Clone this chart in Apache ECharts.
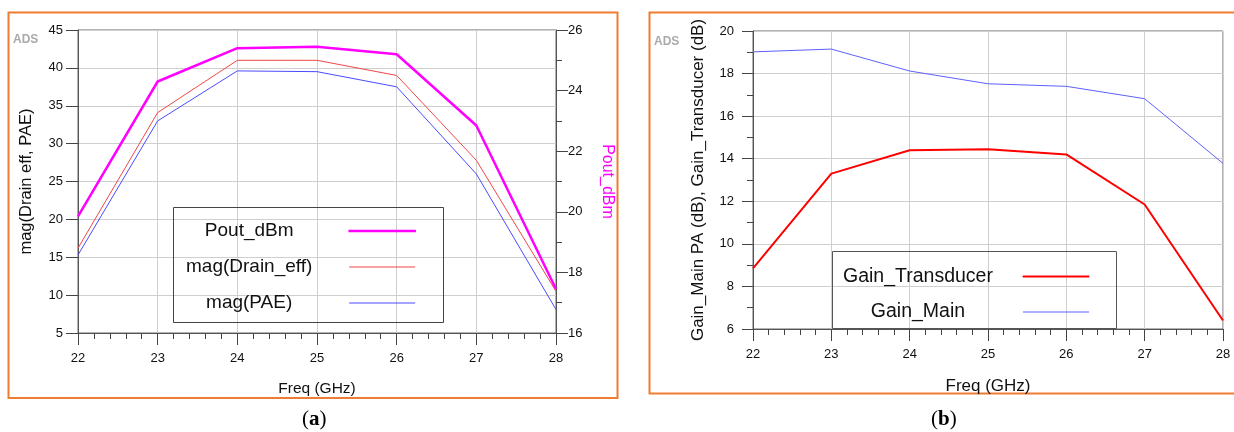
<!DOCTYPE html>
<html><head><meta charset="utf-8">
<script src="https://cdn.jsdelivr.net/npm/echarts@6/dist/echarts.min.js"></script>
<style>html,body{margin:0;padding:0;background:#fff}#c{width:1234px;height:432px}</style>
</head><body><div id="c"></div>
<script>
const freq = [22, 23, 24, 25, 26, 27, 28];
const drainEff = [16.2, 34.1, 41.0, 41.0, 39.0, 27.8, 10.5];
const pae = [15.3, 33.0, 39.6, 39.5, 37.5, 26.0, 8.1];
const poutDbm = [19.85, 24.3, 25.4, 25.45, 25.2, 22.85, 17.45];
const gainMain = [19.02, 19.15, 18.12, 17.52, 17.4, 16.82, 13.78];
const gainTransducer = [8.85, 13.3, 14.4, 14.45, 14.2, 11.85, 6.4];

const pairs = (ys) => freq.map((f, i) => [f, ys[i]]);
const FONT = 'Liberation Sans';
const gridLine = { show: true, lineStyle: { color: '#cfcfcf', width: 1 } };
const axisLine = { show: true, lineStyle: { color: '#555', width: 1 } };
const lbl = { color: '#111', fontFamily: FONT, fontSize: 13 };
const tickStyle = { color: '#444' };

function xAxis(gridIndex, nameSize, gap) {
  return {
    type: 'value', gridIndex, min: 22, max: 28, interval: 1,
    name: 'Freq (GHz)', nameLocation: 'middle', nameGap: gap,
    nameTextStyle: { color: '#111', fontFamily: FONT, fontSize: nameSize },
    axisLine, axisLabel: Object.assign({ margin: 19 }, lbl),
    axisTick: { show: true, length: 12, lineStyle: tickStyle },
    minorTick: { show: true, splitNumber: 5, length: 6, lineStyle: tickStyle },
    splitLine: gridLine
  };
}

const chart = echarts.init(document.getElementById('c'), null, { renderer: 'canvas' });
chart.setOption({
  animation: false,
  backgroundColor: '#fff',
  grid: [
    { left: 78, right: 678, top: 30, bottom: 99, show: true, borderColor: '#666', borderWidth: 1 },
    { left: 753, right: 11, top: 31, bottom: 103, show: true, borderColor: '#666', borderWidth: 1 }
  ],
  xAxis: [xAxis(0, 15.5, 48), xAxis(1, 17, 48.5)],
  yAxis: [
    {
      type: 'value', gridIndex: 0, min: 5, max: 45, interval: 5, position: 'left',
      name: 'mag(Drain eff, PAE)', nameLocation: 'middle', nameGap: 43.5, nameRotate: 90,
      nameTextStyle: { color: '#111', fontFamily: FONT, fontSize: 16.5 },
      axisLine, axisLabel: Object.assign({ margin: 15 }, lbl),
      axisTick: { show: true, length: 12, lineStyle: tickStyle },
      splitLine: gridLine
    },
    {
      type: 'value', gridIndex: 0, min: 16, max: 26, interval: 2, position: 'right',
      name: 'Pout_dBm', nameLocation: 'middle', nameGap: 43, nameRotate: -90,
      nameTextStyle: { color: '#ff00ff', fontFamily: FONT, fontSize: 16 },
      axisLine, axisLabel: Object.assign({ margin: 12 }, lbl),
      axisTick: { show: true, length: 12, lineStyle: tickStyle },
      minorTick: { show: true, splitNumber: 2, length: 6, lineStyle: tickStyle },
      splitLine: { show: false }
    },
    {
      type: 'value', gridIndex: 1, min: 6, max: 20, interval: 2, position: 'left',
      name: 'Gain_Main PA (dB), Gain_Transducer (dB)', nameLocation: 'middle', nameGap: 46.5, nameRotate: 90,
      nameTextStyle: { color: '#111', fontFamily: FONT, fontSize: 17 },
      axisLine, axisLabel: Object.assign({ margin: 19 }, lbl),
      axisTick: { show: true, length: 11, lineStyle: tickStyle },
      minorTick: { show: true, splitNumber: 2, length: 6, lineStyle: tickStyle },
      splitLine: gridLine
    }
  ],
  legend: [
    {
      left: 181, top: 216.5, orient: 'vertical', align: 'right', itemGap: 17,
      itemWidth: 66, itemHeight: 1, icon: 'rect', selectedMode: false,
      data: [
        { name: 'Pout_dBm', itemStyle: { color: '#ff00ff', borderColor: '#ff00ff', borderWidth: 1.5 } },
        { name: 'mag(Drain_eff)', itemStyle: { color: '#f04848', borderWidth: 0 } },
        { name: 'mag(PAE)', itemStyle: { color: '#4b4bff', borderWidth: 0 } }
      ],
      formatter: '{t|{name}}',
      textStyle: { rich: { t: { width: 190, align: 'center', fontFamily: FONT, fontSize: 19, color: '#111' } } }
    },
    {
      left: 838, top: 261.5, orient: 'vertical', align: 'right', itemGap: 15.5,
      itemWidth: 66, itemHeight: 1, icon: 'rect', selectedMode: false,
      data: [
        { name: 'Gain_Transducer', itemStyle: { color: '#ff0000', borderColor: '#ff0000', borderWidth: 1 } },
        { name: 'Gain_Main', itemStyle: { color: '#6060ff', borderWidth: 0 } }
      ],
      formatter: '{t|{name}}',
      textStyle: { rich: { t: { width: 200, align: 'center', fontFamily: FONT, fontSize: 19.5, color: '#111' } } }
    }
  ],
  series: [
    { name: 'mag(Drain_eff)', type: 'line', xAxisIndex: 0, yAxisIndex: 0, data: pairs(drainEff),
      symbol: 'none', lineStyle: { color: '#f04848', width: 1 }, itemStyle: { color: '#f04848' }, z: 3 },
    { name: 'mag(PAE)', type: 'line', xAxisIndex: 0, yAxisIndex: 0, data: pairs(pae),
      symbol: 'none', lineStyle: { color: '#4b4bff', width: 1 }, itemStyle: { color: '#4b4bff' }, z: 3 },
    { name: 'Pout_dBm', type: 'line', xAxisIndex: 0, yAxisIndex: 1, data: pairs(poutDbm),
      symbol: 'none', lineStyle: { color: '#ff00ff', width: 2.5 }, itemStyle: { color: '#ff00ff' }, z: 4 },
    { name: 'Gain_Transducer', type: 'line', xAxisIndex: 1, yAxisIndex: 2, data: pairs(gainTransducer),
      symbol: 'none', lineStyle: { color: '#ff0000', width: 2 }, itemStyle: { color: '#ff0000' }, z: 4 },
    { name: 'Gain_Main', type: 'line', xAxisIndex: 1, yAxisIndex: 2, data: pairs(gainMain),
      symbol: 'none', lineStyle: { color: '#6060ff', width: 1 }, itemStyle: { color: '#6060ff' }, z: 3 }
  ],
  graphic: [
    { type: 'rect', shape: { x: 8.5, y: 12.5, width: 609, height: 385.5 }, style: { fill: 'none', stroke: '#ed7d31', lineWidth: 2 }, z: 0 },
    { type: 'rect', shape: { x: 649.5, y: 12.5, width: 600, height: 381 }, style: { fill: 'none', stroke: '#ed7d31', lineWidth: 2 }, z: 0 },
    { type: 'rect', shape: { x: 173.5, y: 207.5, width: 270, height: 115 }, style: { fill: 'rgba(255,255,255,0)', stroke: '#444', lineWidth: 1 }, z: 5, silent: true },
    { type: 'rect', shape: { x: 832.5, y: 251.5, width: 284, height: 77 }, style: { fill: 'rgba(255,255,255,0)', stroke: '#555', lineWidth: 1 }, z: 5, silent: true },
    { type: 'text', left: 13, top: 34, style: { text: 'ADS', fill: '#aaa', font: 'bold 12px "Liberation Sans"' } },
    { type: 'text', left: 654, top: 36, style: { text: 'ADS', fill: '#aaa', font: 'bold 12px "Liberation Sans"' } },
    { type: 'text', left: 302, top: 409, style: { text: '({b|a})', fill: '#000', font: '21px "Liberation Serif"',
        rich: { b: { fontWeight: 'bold', fontFamily: 'Liberation Serif', fontSize: 21 } } } },
    { type: 'text', left: 931, top: 409, style: { text: '({b|b})', fill: '#000', font: '21px "Liberation Serif"',
        rich: { b: { fontWeight: 'bold', fontFamily: 'Liberation Serif', fontSize: 21 } } } }
  ]
});
</script></body></html>
